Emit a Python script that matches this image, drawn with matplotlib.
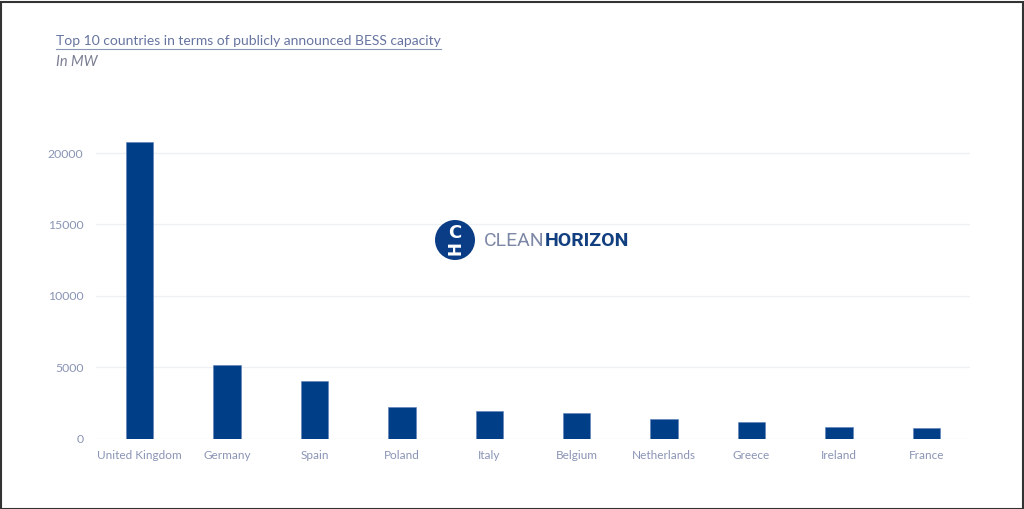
import matplotlib
matplotlib.use("Agg")
import matplotlib.pyplot as plt
from matplotlib.patches import Rectangle, Ellipse

countries = ["United Kingdom", "Germany", "Spain", "Poland", "Italy",
             "Belgium", "Netherlands", "Greece", "Ireland", "France"]
capacity_mw = [20800, 5150, 4000, 2200, 1900, 1800, 1400, 1150, 800, 720]
yticks = [0, 5000, 10000, 15000, 20000]

title = "Top 10 countries in terms of publicly announced BESS capacity"
subtitle = "In MW"

W, H = 1024, 509
fig = plt.figure(figsize=(W / 100, H / 100), dpi=100)
fig.patch.set_facecolor("white")

bar_color = "#003F87"
tick_color = "#8A94B4"
grid_color = "#EEF0F4"
font = "Lato"

# axes: x from 96 to 970 px, y: 0 at 438.5 px, 20000 at 153 px
y0 = 438.5
ppu = (438.5 - 153) / 20000
ytop = 22000
top_px = y0 - ytop * ppu
ax = fig.add_axes([96 / W, (H - y0) / H, (970 - 96) / W, (y0 - top_px) / H])
ax.bar(range(len(countries)), capacity_mw, width=0.315, color=bar_color,
       edgecolor="#5C7FB8", linewidth=0.4, zorder=3)
ax.set_xlim(-0.5, len(countries) - 0.5)
ax.set_ylim(0, ytop)
ax.set_yticks(yticks)
ax.set_yticklabels([str(v) for v in yticks], fontsize=8.8, color=tick_color, family=font)
ax.set_xticks(range(len(countries)))
ax.set_xticklabels(countries, fontsize=8.5, color=tick_color, family=font)
ax.tick_params(axis="both", length=0)
ax.tick_params(axis="y", pad=9)
ax.tick_params(axis="x", pad=8.5)
ax.yaxis.grid(True, color=grid_color, linewidth=1, zorder=0)
for s in ax.spines.values():
    s.set_visible(False)

# title and subtitle
tt = fig.text(56 / W, 1 - 41 / H, title, fontsize=10, color="#6674A0", family=font,
              va="center", ha="left")
fig.canvas.draw()
tb = tt.get_window_extent()
fig.add_artist(plt.Line2D([56 / W, tb.x1 / W], [1 - 49 / H, 1 - 49 / H],
                          color="#8A94B4", linewidth=0.8))
fig.text(56 / W, 1 - 62 / H, subtitle, fontsize=10.5, color="#7A7F92", family=font,
         style="italic", va="center", ha="left")

# logo
cx, cy, r = 455, 240, 20
ell = Ellipse((cx / W, 1 - cy / H), 2 * r / W, 2 * r / H, transform=fig.transFigure,
              facecolor="#0B3D86", edgecolor="none", zorder=5)
fig.add_artist(ell)
fig.text(cx / W, 1 - (cy - 7) / H, "C", fontsize=13, color="white", family="DejaVu Sans",
         weight="bold", ha="center", va="center", zorder=6)
fig.text(cx / W, 1 - (cy + 8) / H, "H", fontsize=12, color="white", family="DejaVu Sans",
         weight="bold", ha="center", va="center", zorder=6, rotation=90)
t1 = fig.text(484 / W, 1 - 241 / H, "CLEAN", fontsize=14, color="#7D88A6",
              family="Roboto", ha="left", va="center")
fig.canvas.draw()
bb = t1.get_window_extent()
fig.text(bb.x1 / W, 1 - 241 / H, "HORIZON", fontsize=14, color="#123F7F",
         family="Roboto", weight="bold", ha="left", va="center")

# outer border
fig.add_artist(Rectangle((0.5 / W, 0.5 / H), 1 - 2 / W, 1 - 2 / H, transform=fig.transFigure,
                         fill=False, edgecolor="#333333", linewidth=1.5))

fig.savefig("out.png", dpi=100)
